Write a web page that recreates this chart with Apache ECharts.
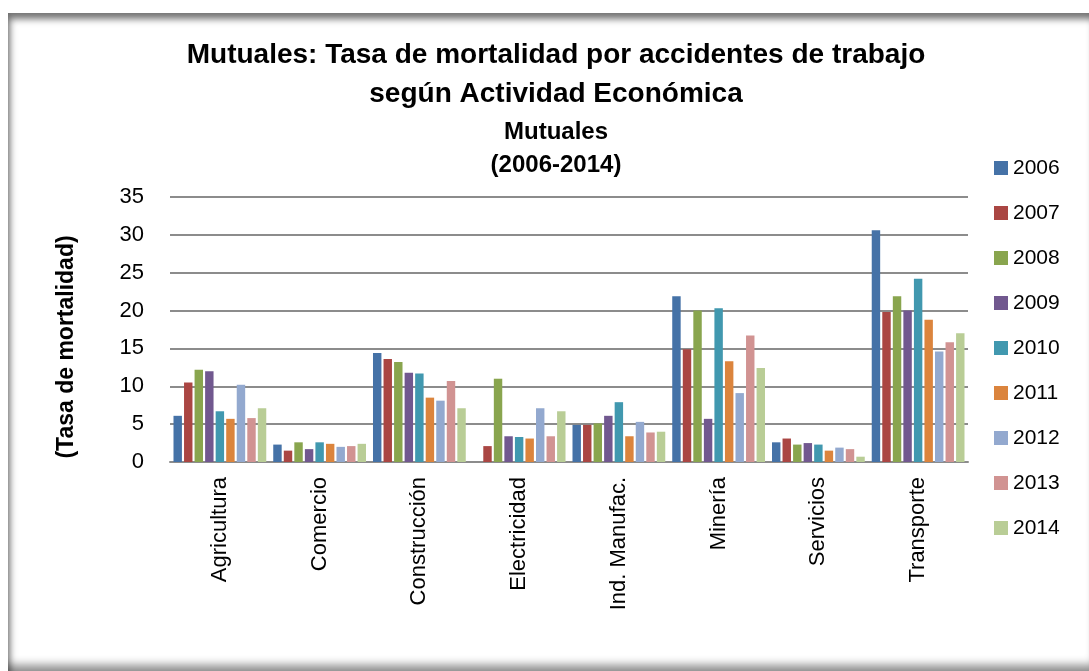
<!DOCTYPE html>
<html>
<head>
<meta charset="utf-8">
<script src="https://cdn.jsdelivr.net/npm/echarts@6/dist/echarts.min.js"></script>
<style>
    html, body { margin: 0; padding: 0; background: #fff; }
    #frame {
        position: absolute; left: 8px; top: 13px; width: 1081px; height: 658px;
        background: #fff;
        box-shadow: inset 5px 9px 7px -3px rgba(0,0,0,0.55), inset 0 -12px 10px -6px rgba(0,0,0,0.45);
    }
    #chart { position: absolute; left: 0; top: 0; width: 1089px; height: 671px; }
</style>
</head>
<body>
<div id="frame"></div>
<div id="chart"></div>
<script>
// sectors on the x axis
const categories = ['Agricultura', 'Comercio', 'Construcción', 'Electricidad', 'Ind. Manufac.', 'Minería', 'Servicios', 'Transporte'];
const years = ['2006', '2007', '2008', '2009', '2010', '2011', '2012', '2013', '2014'];

// tasa de mortalidad, one array per year, in category order
const v2006 = [6.1, 2.3, 14.4, null, 4.9, 21.9, 2.6, 30.6];
const v2007 = [10.5, 1.5, 13.6, 2.1, 4.9, 14.9, 3.1, 19.8];
const v2008 = [12.2, 2.6, 13.2, 11.0, 5.1, 20.0, 2.3, 21.9];
const v2009 = [12.0, 1.7, 11.8, 3.4, 6.1, 5.7, 2.5, 20.0];
const v2010 = [6.7, 2.6, 11.7, 3.3, 7.9, 20.3, 2.3, 24.2];
const v2011 = [5.7, 2.4, 8.5, 3.1, 3.4, 13.3, 1.5, 18.8];
const v2012 = [10.2, 2.0, 8.1, 7.1, 5.3, 9.1, 1.9, 14.6];
const v2013 = [5.8, 2.1, 10.7, 3.4, 3.9, 16.7, 1.7, 15.8];
const v2014 = [7.1, 2.4, 7.1, 6.7, 4.0, 12.4, 0.7, 17.0];
const yearValues = [v2006, v2007, v2008, v2009, v2010, v2011, v2012, v2013, v2014];

const colors = ['#4572A7', '#AA4643', '#89A54E', '#71588F', '#4198AF', '#DB843D', '#93A9CF', '#D19392', '#B9CD96'];
const font = 'Liberation Sans, Arial, sans-serif';

let chart = echarts.init(document.getElementById('chart'));

let series = years.map((y, i) => ({
    name: y,
    type: 'bar',
    data: yearValues[i],
    barGap: '25%',
    barCategoryGap: '7%',
    itemStyle: { color: colors[i] }
}));

let option = {
    animation: false,
    color: colors,
    title: [
        {
            text: 'Mutuales: Tasa de mortalidad por accidentes de trabajo\nsegún Actividad Económica',
            left: 556, top: 36, padding: 0, textAlign: 'center',
            textStyle: { fontFamily: font, fontWeight: 'bold', fontSize: 28, lineHeight: 39, color: '#000' }
        },
        {
            text: 'Mutuales\n(2006-2014)',
            left: 556, top: 116, padding: 0, textAlign: 'center',
            textStyle: { fontFamily: font, fontWeight: 'bold', fontSize: 24, lineHeight: 33, color: '#000' }
        }
    ],
    legend: {
        orient: 'vertical',
        left: 994, top: 157,
        padding: 0,
        itemWidth: 14, itemHeight: 14, itemGap: 23,
        icon: 'rect',
        textStyle: { fontFamily: font, fontSize: 21, lineHeight: 22, color: '#000' },
        data: years
    },
    grid: { left: 170, right: 121, top: 197, bottom: 209 },
    xAxis: {
        type: 'category',
        data: categories,
        axisLine: { lineStyle: { color: '#8c8c8c', width: 2 } },
        axisTick: { show: false },
        axisLabel: { rotate: 90, margin: 15, fontFamily: font, fontSize: 22, color: '#000' }
    },
    yAxis: {
        type: 'value',
        min: 0, max: 35, interval: 5,
        axisLine: { show: false },
        axisTick: { show: false },
        axisLabel: { margin: 26, fontFamily: font, fontSize: 22, color: '#000' },
        splitLine: { lineStyle: { color: '#8c8c8c', width: 2 } }
    },
    graphic: [{
        type: 'text',
        x: 67, y: 347,
        rotation: Math.PI / 2,
        style: {
            text: '(Tasa de mortalidad)',
            fontFamily: font, fontWeight: 'bold', fontSize: 23, fill: '#000',
            align: 'center', verticalAlign: 'middle'
        }
    }],
    series: series
};

chart.setOption(option);
</script>
</body>
</html>
